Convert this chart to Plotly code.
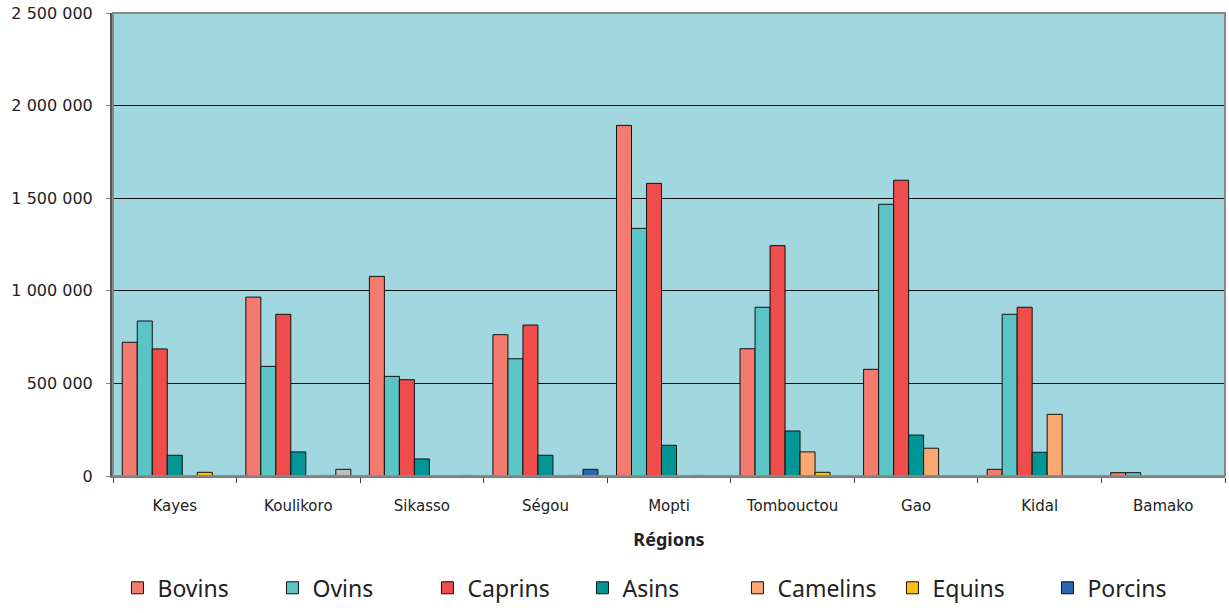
import plotly.graph_objects as go

regions = ["Kayes", "Koulikoro", "Sikasso", "Ségou", "Mopti", "Tombouctou", "Gao", "Kidal", "Bamako"]
bovins   = [722000, 966000, 1078000, 763000, 1893000, 687000, 576000, 36000, 18000]
ovins    = [837000, 592000, 538000, 633000, 1337000, 911000, 1467000, 873000, 18000]
caprins  = [686000, 873000, 520000, 815000, 1580000, 1244000, 1597000, 911000, 2000]
asins    = [112000, 130000, 92000, 112000, 166000, 243000, 221000, 128000, 2000]
camelins = [0, 0, 0, 0, 0, 130000, 150000, 333000, 0]
equins   = [20000, 3000, 2000, 3000, 3000, 20000, 2000, 1000, 1000]
porcins  = [2000, 36000, 3000, 36000, 2000, 0, 0, 0, 0]

series = [
    ("Bovins", bovins, "#F37B70"),
    ("Ovins", ovins, "#5BC5C6"),
    ("Caprins", caprins, "#EF4C4C"),
    ("Asins", asins, "#009696"),
    ("Camelins", camelins, "#F9A870"),
    ("Equins", equins, "#FDC010"),
    ("Porcins", porcins, "#2B66B1"),
]

fig = go.Figure()
for name, vals, col in series:
    colors = [col] * len(vals)
    if name == "Porcins":
        colors[1] = "#BEBEBE"
    fig.add_trace(go.Bar(
        name=name, x=regions, y=vals,
        marker=dict(color=colors, line=dict(color="#111111", width=1)),
    ))

fig.update_layout(
    width=1229, height=613,
    margin=dict(l=113, r=4, t=13, b=137),
    paper_bgcolor="white",
    plot_bgcolor="#A1D8E0",
    barmode="group",
    bargap=0.15,
    bargroupgap=0,
    font=dict(family="Noto Sans", color="#222222"),
    showlegend=True,
    legend=dict(
        orientation="h", x=0.004, xanchor="left", y=-0.288, yanchor="bottom",
        font=dict(size=23, family="Noto Sans", color="#222222"),
        entrywidth=110, entrywidthmode="pixels",
        bgcolor="rgba(0,0,0,0)",
    ),
    xaxis=dict(
        title=dict(text="<b>Régions</b>", font=dict(size=18), standoff=19),
        tickfont=dict(size=15, family="DejaVu Sans"),
        ticks="outside", tickson="boundaries", ticklen=5, tickcolor="#444",
        ticklabelstandoff=15,
        showline=True, linecolor="#777", linewidth=2,
        automargin=False,
    ),
    yaxis=dict(
        range=[0, 2500000], tickvals=[0, 500000, 1000000, 1500000, 2000000, 2500000],
        ticktext=["0", "500 000", "1 000 000", "1 500 000", "2 000 000", "2 500 000"],
        tickfont=dict(size=16, family="DejaVu Sans"),
        ticklabelstandoff=10, ticklabeloverflow="allow",
        showgrid=True, gridcolor="#111111", gridwidth=1,
        showline=True, linecolor="#555", linewidth=3,
        ticks="outside", ticklen=4, tickcolor="#888",
        zeroline=False, automargin=False,
    ),
)
fig.add_shape(type="rect", xref="paper", yref="paper", x0=0, x1=1, y0=0, y1=1,
              line=dict(color="#888888", width=2), layer="above")

fig.write_html("out.html", config={"displayModeBar": False},
               post_script="document.body.style.margin='0';")
